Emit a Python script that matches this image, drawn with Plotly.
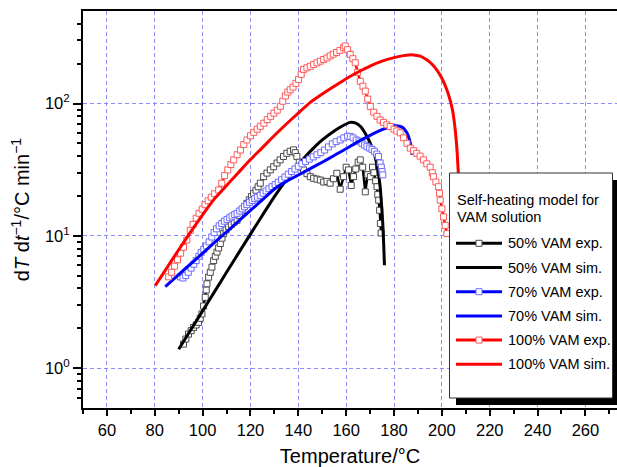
import plotly.graph_objects as go

# ---- self-heating rate data: temperature (°C) vs dT/dt (°C/min) ----
# 50 % VAM, experiment
t50_exp = [92.0, 93.0, 94.1, 95.2, 96.2, 97.3, 98.3, 99.0, 99.7, 100.4, 101.1, 101.5,
           101.8, 102.5, 103.2, 103.9, 104.6, 105.3, 106.0, 106.7, 107.4, 108.1, 108.8,
           109.8, 110.9, 112.0, 113.2, 114.4, 115.4, 116.5, 117.5, 118.5, 119.5, 120.4,
           121.3, 122.3, 123.2, 124.1, 125.5, 126.9, 128.3, 129.7, 131.1, 132.4, 133.8,
           135.2, 136.6, 138.0, 138.7, 139.4, 140.4, 141.3, 142.2, 143.6, 145.0, 146.4,
           147.8, 149.2, 150.6, 152.0, 153.3, 154.7, 156.1, 157.5, 158.9, 160.0, 161.0,
           162.1, 163.1, 164.0, 165.0, 165.9, 166.9, 168.0, 169.0, 170.1, 171.0, 171.6,
           172.3, 172.9, 173.2, 173.6, 174.0, 174.3, 174.6]
v50_exp = [1.52, 1.66, 1.81, 1.92, 2.03, 2.12, 2.22, 2.38, 2.57, 2.95, 3.43, 3.9,
           4.34, 4.87, 5.3, 5.8, 6.5, 7.0, 7.54, 8.1, 8.75, 9.6, 10.4,
           11.1, 11.7, 12.2, 12.7, 13.1, 14.2, 15.6, 16.6, 17.6, 18.7, 19.8,
           20.9, 22.1, 23.5, 25.0, 28.0, 29.8, 31.5, 33.3, 35.5, 37.5, 39.8,
           42.0, 43.5, 44.6, 42.5, 39.8, 36.0, 33.0, 31.5, 29.5, 28.0, 27.2,
           26.8, 26.4, 25.5, 25.8, 25.0, 27.0, 29.7, 22.5, 28.0, 33.0, 31.5,
           24.0, 28.0, 32.0, 36.0, 37.5, 33.0, 21.5, 29.0, 28.0, 33.0, 30.0,
           26.0, 23.5, 20.5, 18.6, 15.6, 12.4, 10.5]

# 50 % VAM, simulation
t50_sim = [90, 95, 100, 105, 110, 115, 120, 125, 130, 135, 140, 145, 150, 155, 158,
           161.7, 164, 166, 168.7, 170.5, 172.1, 173.3, 174.2, 174.8, 175.3, 175.7, 176.0]
v50_sim = [1.39, 1.94, 2.71, 3.79, 5.3, 7.4, 10.3, 14.3, 19.8, 26.5, 34.5, 43.5, 53, 62, 67,
           72, 71, 67, 56.4, 48, 39.6, 31, 23.5, 17, 12.4, 8.5, 6.0]

# 70 % VAM, experiment
t70_exp = [90.7, 91.8, 92.9, 94.0, 95.2, 96.3, 97.3, 98.4, 99.4, 100.5, 101.6, 102.7,
           103.8, 104.8, 105.8, 106.9, 108.0, 109.1, 110.2, 111.3, 112.3, 113.4, 114.4,
           115.5, 116.5, 117.5, 118.5, 119.6, 120.7, 121.8, 122.9, 124.1, 125.3, 126.5,
           127.7, 129.0, 130.3, 131.6, 133.0, 134.4, 135.8, 137.2, 138.6, 140.0, 141.5,
           143.0, 144.6, 146.2, 147.8, 149.4, 151.0, 152.6, 154.2, 155.8, 157.5, 159.0,
           160.6, 161.7, 162.9, 164.2, 165.4, 166.6, 167.7, 168.7, 169.8, 170.8, 171.8,
           172.8, 173.5, 174.2, 174.7, 175.0, 175.3]
v70_exp = [4.9, 4.8, 5.0, 5.3, 5.7, 6.1, 6.5, 7.0, 7.5, 7.9, 8.4, 9.0,
           9.8, 10.6, 11.3, 11.9, 12.4, 12.9, 13.3, 13.7, 14.1, 14.5, 14.8,
           15.4, 16.0, 16.6, 17.2, 17.9, 18.5, 19.1, 19.6, 20.2, 21.0, 21.8,
           22.7, 23.5, 24.4, 25.4, 26.5, 27.8, 29.2, 30.6, 32.0, 33.5, 35.0,
           36.5, 38.0, 39.5, 41.0, 42.5, 44.5, 47.0, 49.5, 51.5, 53.0, 55.0,
           56.5, 56.4, 55.0, 53.0, 52.0, 50.0, 48.5, 47.2, 46.0, 45.0, 43.5,
           41.5, 39.8, 35.5, 33.0, 30.6, 28.9]

# 70 % VAM, simulation
t70_sim = [84.4, 90, 95, 100, 105, 110, 115, 120, 125, 130, 135, 140, 145, 150, 155,
           160, 165, 170, 175, 178, 181, 183.5, 185.4, 186.5, 187.2, 187.5]
v70_sim = [4.14, 5.1, 6.14, 7.39, 8.91, 10.7, 12.9, 15.6, 18.7, 22.6, 25.8, 28.8, 32.2,
           36.0, 40.5, 45.5, 51.5, 57.5, 63.5, 66.5, 68, 66, 60, 53, 46, 41]

# 100 % VAM, experiment
t100_exp = [85.8, 87.0, 88.3, 89.5, 90.8, 92.0, 93.4, 94.8, 96.0, 97.3, 98.5, 99.8,
            101.0, 102.3, 103.6, 105.0, 106.7, 108.0, 109.2, 110.5, 111.8, 113.0, 114.4,
            115.8, 117.2, 118.5, 120.0, 121.4, 122.8, 124.1, 125.6, 127.0, 128.4, 129.8,
            131.2, 132.5, 133.5, 134.6, 135.6, 136.6, 137.8, 139.0, 140.1, 141.2, 142.2,
            143.6, 145.0, 146.4, 147.8, 149.2, 150.6, 152.0, 153.3, 154.6, 156.0, 157.4,
            158.9, 159.6, 160.6, 161.7, 162.8, 163.8, 164.8, 165.9, 167.0, 168.0, 169.0,
            170.1, 171.5, 172.9, 174.2, 175.6, 177.0, 178.4, 180.0, 181.2, 182.6, 184.0,
            185.4, 186.8, 188.2, 189.5, 190.9, 192.3, 193.7, 195.1, 196.0, 196.5, 197.5,
            198.6, 199.0, 199.3, 200.0, 200.7, 201.4, 202.1]
v100_exp = [4.9, 5.3, 5.9, 6.6, 7.4, 8.2, 9.3, 11.0, 12.2, 13.6, 14.8, 15.9,
            17.2, 18.4, 19.6, 20.8, 22.2, 25.0, 28.5, 31.5, 34.6, 37.5, 41.0,
            44.5, 49.0, 53.0, 57.0, 60.5, 64.0, 67.2, 71.0, 75.5, 80.0, 84.5,
            89.0, 95.2, 104, 114, 122, 127, 133, 142, 152, 166, 181,
            186, 191, 197, 203, 209, 215, 221, 229, 236, 243, 252,
            264, 272, 255, 235, 218, 203, 172, 147, 135, 124, 108,
            95, 86, 80, 75, 72, 69, 67, 64, 62, 60, 55,
            50, 46, 44, 42, 40, 37.5, 35, 33, 30, 28, 25.5,
            23.5, 21, 18.6, 16, 13.9, 12, 10.4]

# 100 % VAM, simulation
t100_sim = [80.2, 85, 90, 95, 100, 105, 110, 115, 120, 125, 130, 135, 140, 145,
            150, 155, 160, 165, 170, 175, 180, 184, 188, 191, 194, 196, 198, 200, 202,
            203.5, 204.5, 205.5, 206.3, 206.8, 207.5, 208.0, 208.5, 209.0]
v100_sim = [4.2, 5.7, 7.85, 10.7, 14.4, 19.1, 24.0, 30.1, 37.7, 46.4, 57.3, 70.0, 84.7, 102,
            118, 135, 154, 173, 192, 209, 222, 230, 233, 228, 212, 197, 178, 155, 128,
            105, 88, 65, 45, 31.5, 18, 10, 5, 2]

x_ticks = [60, 80, 100, 120, 140, 160, 180, 200, 220, 240, 260]
y_ticks = [1, 10, 100]
y_tick_text = ["10<sup>0</sup>", "10<sup>1</sup>", "10<sup>2</sup>"]
y_minor = [0.6, 0.7, 0.8, 0.9, 2, 3, 4, 5, 6, 7, 8, 9,
           20, 30, 40, 50, 60, 70, 80, 90, 200, 300, 400]

legend_title = ["Self-heating model for", "VAM solution"]

FONT = "Liberation Sans, Arial, Helvetica, sans-serif"

series = [
    ("50% VAM exp.", t50_exp, v50_exp, "#000000", "#4a4a4a", True),
    ("50% VAM sim.", t50_sim, v50_sim, "#000000", None, False),
    ("70% VAM exp.", t70_exp, v70_exp, "#0000ff", "#6b6bff", True),
    ("70% VAM sim.", t70_sim, v70_sim, "#0000ff", None, False),
    ("100% VAM exp.", t100_exp, v100_exp, "#ff0000", "#ff5a5a", True),
    ("100% VAM sim.", t100_sim, v100_sim, "#ff0000", None, False),
]

fig = go.Figure()
for name, xs, ys, col, mcol, is_exp in series:
    if is_exp:
        fig.add_trace(go.Scatter(
            x=xs, y=ys, name=name, mode="lines+markers", showlegend=False,
            line=dict(color=col, width=2.5),
            marker=dict(symbol="square", size=6, color="white",
                        line=dict(color=mcol, width=1)),
        ))
    else:
        fig.add_trace(go.Scatter(
            x=xs, y=ys, name=name, mode="lines", showlegend=False,
            line=dict(color=col, width=3, shape="spline", smoothing=0.6),
        ))

# plot-area geometry in pixels
L, T, W, H = 83, 11, 534, 397


def px(x):
    return (x - L) / W


def py(y):
    return (T + H - y) / H


# ---- legend panel (drawn by hand so the key lines can be full length) ----
fig.add_shape(type="rect", xref="paper", yref="paper", layer="above",
              x0=px(456), x1=px(622), y0=py(405), y1=py(180),
              fillcolor="black", line=dict(width=0))
fig.add_shape(type="rect", xref="paper", yref="paper", layer="above",
              x0=px(449.5), x1=px(612.5), y0=py(398), y1=py(173),
              fillcolor="white", line=dict(color="#333333", width=1))

for i, line_text in enumerate(legend_title):
    fig.add_annotation(xref="paper", yref="paper", x=px(455), y=py(199.5 + 17.3 * i),
                       text=line_text, showarrow=False, xanchor="left", yanchor="middle",
                       font=dict(family=FONT, size=14.5, color="black"))

key_x0, key_x1, key_mid = 456, 502, 479
row_y0, row_step = 243.3, 24.2
for i, (name, _, _, col, mcol, is_exp) in enumerate(series):
    yy = row_y0 + row_step * i
    fig.add_shape(type="line", xref="paper", yref="paper", layer="above",
                  x0=px(key_x0), x1=px(key_x1), y0=py(yy), y1=py(yy),
                  line=dict(color=col, width=3))
    if is_exp:
        fig.add_shape(type="rect", xref="paper", yref="paper", layer="above",
                      x0=px(key_mid - 3), x1=px(key_mid + 3),
                      y0=py(yy + 3), y1=py(yy - 3),
                      fillcolor="white", line=dict(color=mcol, width=1))
    fig.add_annotation(xref="paper", yref="paper", x=px(505.5), y=py(yy),
                       text=name, showarrow=False, xanchor="left", yanchor="middle",
                       font=dict(family=FONT, size=14.5, color="black"))

fig.update_layout(
    width=617, height=467,
    margin=dict(l=L, r=0, t=T, b=467 - T - H),
    paper_bgcolor="white", plot_bgcolor="white",
    font=dict(family=FONT, size=16, color="black"),
    showlegend=False,
    xaxis=dict(
        range=[50, 273.2], tickmode="array", tickvals=x_ticks,
        ticks="outside", ticklen=6, tickwidth=1.5, tickcolor="black",
        showline=True, linecolor="black", linewidth=2, mirror=True,
        showgrid=True, gridcolor="#8c8cff", gridwidth=1, griddash="4px,3px",
        minor=dict(ticks="outside", ticklen=4, tickwidth=1.5, tickcolor="black",
                   dtick=10, tick0=0, showgrid=False),
        zeroline=False,
        tickfont=dict(family=FONT, size=16.5),
        title=dict(text="Temperature/°C", font=dict(family=FONT, size=20), standoff=12),
    ),
    yaxis=dict(
        type="log", range=[-0.30103, 2.69897],
        tickmode="array", tickvals=y_ticks, ticktext=y_tick_text,
        ticks="outside", ticklen=8, tickwidth=1.5, tickcolor="black",
        showline=True, linecolor="black", linewidth=2, mirror=False,
        showgrid=True, gridcolor="#8c8cff", gridwidth=1, griddash="4px,3px",
        minor=dict(ticks="outside", ticklen=4, tickwidth=1.5, tickcolor="black",
                   tickmode="array", tickvals=y_minor, showgrid=False),
        zeroline=False,
        tickfont=dict(family=FONT, size=16.5),
        title=dict(text="d<i>T</i> d<i>t</i><sup>−1</sup>/°C min<sup>−1</sup>",
                   font=dict(family=FONT, size=20), standoff=10),
    ),
)

fig.write_html("out.html")
